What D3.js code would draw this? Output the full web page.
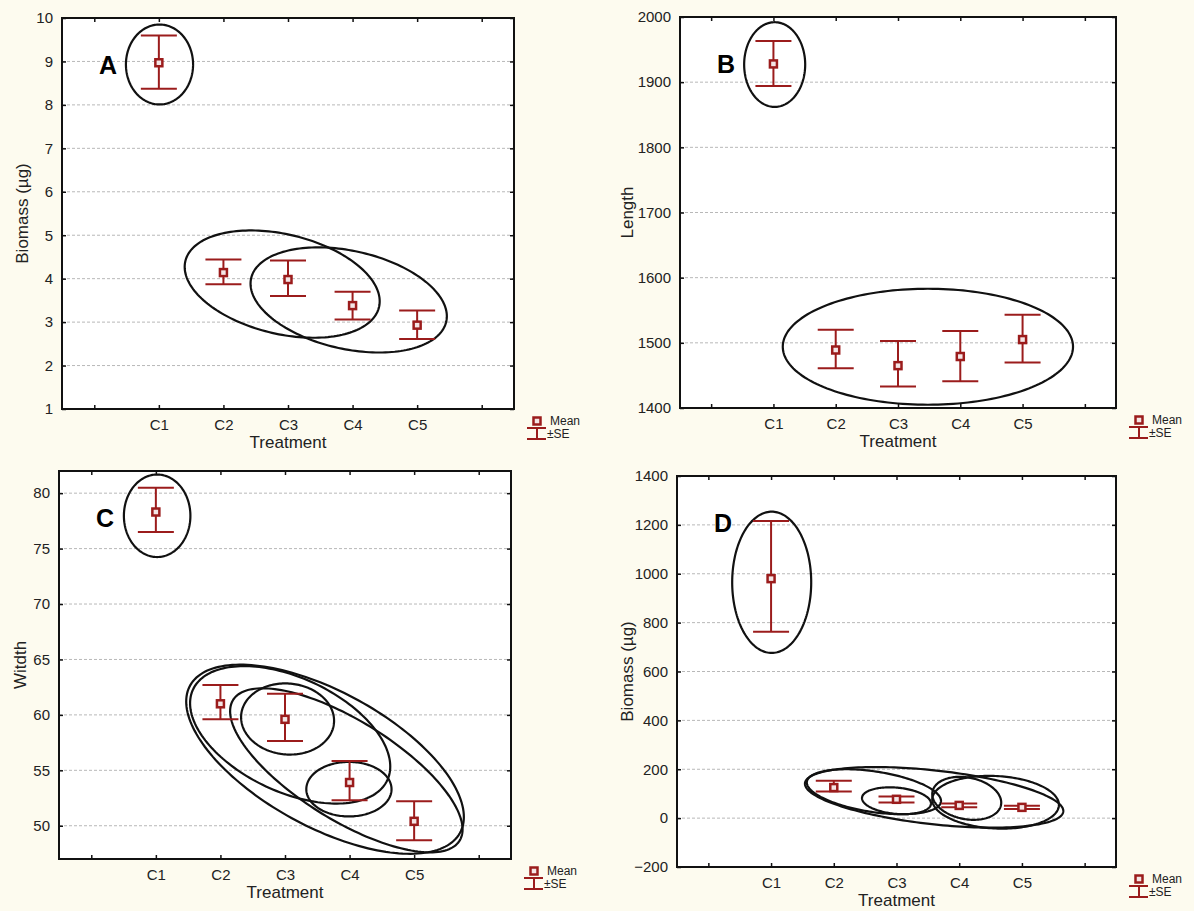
<!DOCTYPE html>
<html><head><meta charset="utf-8">
<script src="https://cdn.jsdelivr.net/npm/d3@7"></script>
<style>
html,body{margin:0;padding:0;background:#fdfbef;}
svg{display:block;font-family:"Liberation Sans",Arial,Helvetica,sans-serif;}
</style></head>
<body><svg id="chart" width="1194" height="911"></svg>
<script>
// ---------- data ----------
const categories = ["C1","C2","C3","C4","C5"];
const xTickPositions = [1,2,3,4,5,6,7];

// A: Biomass (µg)
const biomassA_mean  = [8.97, 4.14, 3.98, 3.38, 2.93];
const biomassA_upper = [9.60, 4.44, 4.42, 3.70, 3.27];
const biomassA_lower = [8.37, 3.87, 3.60, 3.06, 2.61];
const biomassA_ticks = [1,2,3,4,5,6,7,8,9,10];
// ellipses: [centre x (category position, C1=2), centre y, half-width, half-height, tilt]
const biomassA_ellipses = [
  [2.01, 8.93, 0.52, 0.92, 0],
  [3.91, 3.875, 1.51, 1.235, -0.32],
  [4.94, 3.51, 1.52, 1.21, -0.31]
];

// B: Length
const lengthB_mean  = [1928, 1489, 1465, 1479, 1505];
const lengthB_upper = [1963, 1520, 1503, 1518, 1543];
const lengthB_lower = [1894, 1461, 1433, 1441, 1470];
const lengthB_ticks = [1400,1500,1600,1700,1800,1900,2000];
const lengthB_ellipses = [
  [2.02, 1927, 0.49, 65, 0],
  [4.48, 1494, 2.33, 89, 0]
];

// C: Width
const widthC_mean  = [78.3, 61.0, 59.6, 53.9, 50.4];
const widthC_upper = [80.5, 62.7, 61.9, 55.85, 52.2];
const widthC_lower = [76.5, 59.6, 57.65, 52.3, 48.7];
const widthC_ticks = [50,55,60,65,70,75,80];
const widthC_ellipses = [
  [2.02, 77.96, 0.515, 3.72, 0],
  [4.04, 59.63, 0.72, 3.21, -0.05],
  [4.99, 53.3, 0.66, 2.46, 0],
  [4.08, 58.2, 1.55, 6.2, -0.46],
  [4.62, 56.0, 2.15, 8.53, -0.61],
  [4.95, 55.0, 1.80, 7.4, -0.72]
];

// D: Biomass (µg)
const biomassD_mean  = [980, 125, 77, 52, 44];
const biomassD_upper = [1216, 153, 89, 60, 51];
const biomassD_lower = [763, 109, 64, 45, 37];
const biomassD_ticks = [-200,0,200,400,600,800,1000,1200,1400];
const biomassD_ellipses = [
  [2.01, 965, 0.63, 289, 0],
  [4.0, 71, 0.55, 55, -0.2],
  [5.12, 81, 0.55, 88, -0.2],
  [3.64, 108, 1.07, 92, -0.41],
  [4.60, 85, 2.06, 124, -0.45],
  [5.58, 65, 1.01, 108, -0.1]
];

// ---------- layout ----------
const panels = [
  {letter:"A", ytitle:"Biomass (\u00b5g)", mean:biomassA_mean, upper:biomassA_upper, lower:biomassA_lower,
   ticks:biomassA_ticks, ydom:[1,10], ell:biomassA_ellipses, left:62, right:514, top:18, bottom:409, ytx:22},
  {letter:"B", ytitle:"Length", mean:lengthB_mean, upper:lengthB_upper, lower:lengthB_lower,
   ticks:lengthB_ticks, ydom:[1400,2000], ell:lengthB_ellipses, left:680, right:1116, top:17, bottom:408, ytx:627},
  {letter:"C", ytitle:"Witdth", mean:widthC_mean, upper:widthC_upper, lower:widthC_lower,
   ticks:widthC_ticks, ydom:[47,82], ell:widthC_ellipses, left:59, right:511, top:471, bottom:859, ytx:20},
  {letter:"D", ytitle:"Biomass (\u00b5g)", mean:biomassD_mean, upper:biomassD_upper, lower:biomassD_lower,
   ticks:biomassD_ticks, ydom:[-200,1400], ell:biomassD_ellipses, left:677, right:1116, top:476, bottom:867, ytx:627}
];

const RED = "#9b1c1c";
const svg = d3.select("#chart");
svg.append("rect").attr("width",1194).attr("height",911).attr("fill","#fdfbef");

panels.forEach(p => {
  const g = svg.append("g");
  const x = d3.scaleLinear().domain([0.5,7.5]).range([p.left,p.right]);
  const y = d3.scaleLinear().domain(p.ydom).range([p.bottom,p.top]);

  g.append("rect").attr("x",p.left).attr("y",p.top)
   .attr("width",p.right-p.left).attr("height",p.bottom-p.top).attr("fill","#fff");

  // grid
  g.selectAll(".grid").data(p.ticks.filter(t => t>p.ydom[0] && t<p.ydom[1])).join("line")
   .attr("x1",p.left).attr("x2",p.right).attr("y1",d=>y(d)).attr("y2",d=>y(d))
   .attr("stroke","#b8b8b8").attr("stroke-width",1).attr("stroke-dasharray","3,2");

  // axes with inward ticks
  const yl = d3.axisLeft(y).tickValues(p.ticks).tickSize(-4).tickPadding(9).tickFormat(d3.format("d"));
  const ga = g.append("g").attr("transform",`translate(${p.left},0)`).call(yl);
  ga.select(".domain").remove();
  ga.selectAll("text").attr("font-size",15).attr("fill","#222").attr("font-family","Liberation Sans, Arial, sans-serif");
  ga.selectAll("line").attr("stroke","#111").attr("stroke-width",1.5);
  const yr = d3.axisRight(y).tickValues(p.ticks).tickSize(-4).tickFormat("");
  const gr = g.append("g").attr("transform",`translate(${p.right},0)`).call(yr);
  gr.select(".domain").remove(); gr.selectAll("line").attr("stroke","#111").attr("stroke-width",1.5);

  const xb = d3.axisBottom(x).tickValues(xTickPositions).tickSize(-4).tickPadding(10)
     .tickFormat(d => (d>=2 && d<=6) ? categories[d-2] : "");
  const gb = g.append("g").attr("transform",`translate(0,${p.bottom})`).call(xb);
  gb.select(".domain").remove();
  gb.selectAll("text").attr("font-size",15).attr("fill","#222").attr("font-family","Liberation Sans, Arial, sans-serif");
  gb.selectAll("line").attr("stroke","#111").attr("stroke-width",1.5);
  const xt = d3.axisTop(x).tickValues(xTickPositions).tickSize(-4).tickFormat("");
  const gt = g.append("g").attr("transform",`translate(0,${p.top})`).call(xt);
  gt.select(".domain").remove(); gt.selectAll("line").attr("stroke","#111").attr("stroke-width",1.5);

  // frame
  g.append("rect").attr("x",p.left).attr("y",p.top)
   .attr("width",p.right-p.left).attr("height",p.bottom-p.top)
   .attr("fill","none").attr("stroke","#111").attr("stroke-width",2);

  // titles
  g.append("text").attr("x",(p.left+p.right)/2).attr("y",p.bottom+39)
   .attr("text-anchor","middle").attr("font-size",17).attr("fill","#222").text("Treatment");
  g.append("text").attr("transform",`translate(${p.ytx},${(p.top+p.bottom)/2}) rotate(-90)`)
   .attr("text-anchor","middle").attr("dominant-baseline","central")
   .attr("font-size",17).attr("fill","#222").text(p.ytitle);
  g.append("text").attr("x",p.left+46).attr("y",p.top+47).attr("text-anchor","middle")
   .attr("dominant-baseline","central").attr("font-weight","bold").attr("font-size",25)
   .attr("fill","#000").text(p.letter);

  // ellipses
  const line = d3.line().x(d=>x(d[0])).y(d=>y(d[1])).curve(d3.curveLinearClosed);
  p.ell.forEach(([cx,cy,rx,ry,rho]) => {
    const pts = d3.range(0,360,2).map(a => {
      const t = a*Math.PI/180;
      return [cx + rx*Math.cos(t), cy + ry*(rho*Math.cos(t) + Math.sqrt(1-rho*rho)*Math.sin(t))];
    });
    g.append("path").attr("d",line(pts)).attr("fill","none").attr("stroke","#111").attr("stroke-width",2.2);
  });

  // error bars
  const idx = categories.map((c,i)=>i);
  const cap = 18;
  g.selectAll(".v").data(idx).join("line")
   .attr("x1",i=>x(i+2)).attr("x2",i=>x(i+2)).attr("y1",i=>y(p.upper[i])).attr("y2",i=>y(p.lower[i]))
   .attr("stroke",RED).attr("stroke-width",2);
  g.selectAll(".cu").data(idx).join("line")
   .attr("x1",i=>x(i+2)-cap).attr("x2",i=>x(i+2)+cap).attr("y1",i=>y(p.upper[i])).attr("y2",i=>y(p.upper[i]))
   .attr("stroke",RED).attr("stroke-width",2);
  g.selectAll(".cl").data(idx).join("line")
   .attr("x1",i=>x(i+2)-cap).attr("x2",i=>x(i+2)+cap).attr("y1",i=>y(p.lower[i])).attr("y2",i=>y(p.lower[i]))
   .attr("stroke",RED).attr("stroke-width",2);
  g.selectAll(".m").data(idx).join("rect")
   .attr("x",i=>x(i+2)-3.5).attr("y",i=>y(p.mean[i])-3.5).attr("width",7).attr("height",7)
   .attr("fill","#f4e6e6").attr("stroke",RED).attr("stroke-width",2.5);

  // legend
  const lx = p.right+23, ly = p.bottom+12;
  g.append("rect").attr("x",lx-3.5).attr("y",ly-3.5).attr("width",7).attr("height",7)
   .attr("fill","#f4e6e6").attr("stroke",RED).attr("stroke-width",2.5);
  g.append("line").attr("x1",lx-10).attr("x2",lx+9).attr("y1",ly+7).attr("y2",ly+7).attr("stroke",RED).attr("stroke-width",2);
  g.append("line").attr("x1",lx-10).attr("x2",lx+9).attr("y1",ly+18).attr("y2",ly+18).attr("stroke",RED).attr("stroke-width",2);
  g.append("line").attr("x1",lx).attr("x2",lx).attr("y1",ly+7).attr("y2",ly+18).attr("stroke",RED).attr("stroke-width",2);
  g.append("text").attr("x",lx+13).attr("y",ly+4).attr("font-size",12).attr("fill","#222").text("Mean");
  g.append("text").attr("x",lx+10).attr("y",ly+17).attr("font-size",12).attr("fill","#222").text("\u00b1SE");
});
</script></body></html>
